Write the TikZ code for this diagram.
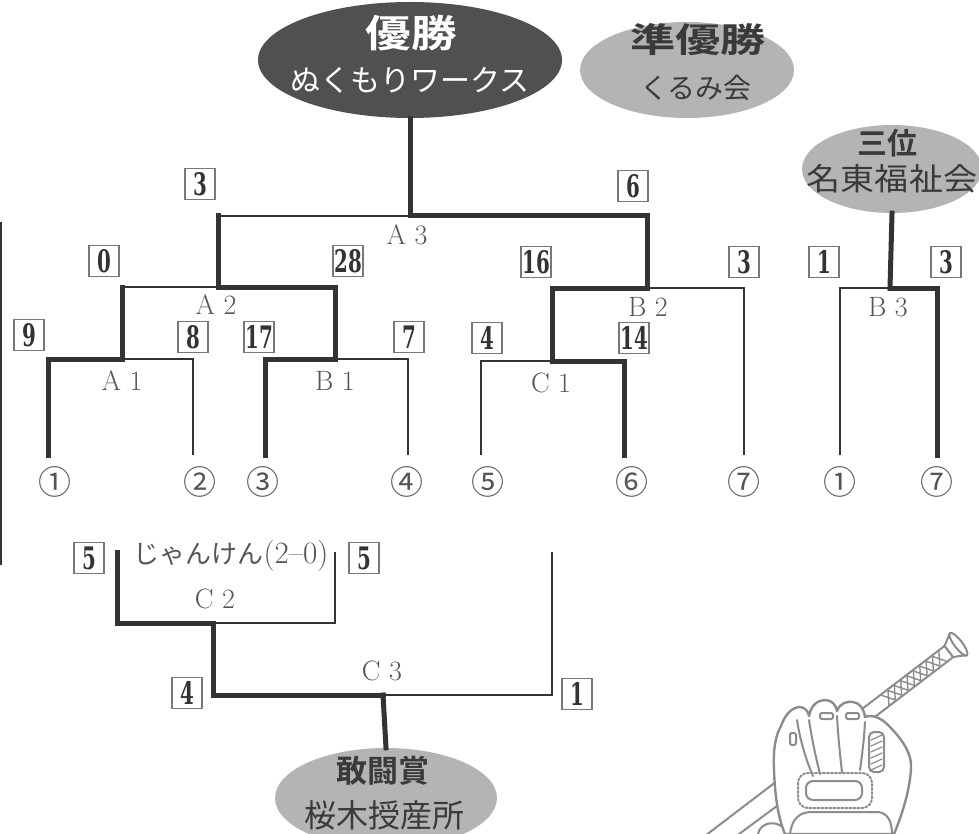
\documentclass[tikz,border=0pt]{standalone}
\usepackage{graphicx}
\usepackage{fontspec}
\newfontfamily\jpfont{Noto Sans CJK JP}[BoldFont={Noto Sans CJK JP Bold}]
\newfontfamily\scorefont{DejaVu Serif}
\usetikzlibrary{shapes.geometric}
\definecolor{inkgray}   {RGB}{ 51, 51, 51}
\definecolor{boxgray}   {RGB}{120,120,120}
\definecolor{textgray}  {RGB}{ 85, 85, 85}
\definecolor{champfill} {RGB}{ 80, 80, 80}
\definecolor{prizefill} {RGB}{180,180,180}
\definecolor{prizetext} {RGB}{ 58, 58, 58}
\definecolor{sketchgray}{RGB}{140,140,140}
\tikzset{
  win/.style    = {inkgray, line width=5pt, line cap=rect},
  lose/.style   = {inkgray, line width=1.8pt},
  score/.style  = {draw=boxgray, line width=1.3pt, minimum width=30pt,
                   minimum height=31pt, inner sep=0pt, text=inkgray,
                   font=\scorefont\bfseries\fontsize{31}{31}\selectfont},
  match/.style  = {text=textgray, font=\fontsize{28}{28}\selectfont},
  seed/.style   = {text=textgray, font=\jpfont\fontsize{33}{33}\selectfont},
  prize/.style  = {ellipse, fill=prizefill, inner sep=0pt},
  title/.style  = {text=prizetext, font=\jpfont\bfseries\fontsize{31}{31}\selectfont},
  team/.style   = {text=prizetext, font=\jpfont\fontsize{31}{31}\selectfont},
  sketch/.style = {sketchgray, line width=2pt, line join=round, line cap=round},
}

\begin{document}
\begin{tikzpicture}[x=1pt, y=-1pt]

  \useasboundingbox (0,0) rectangle (979,834);
  \clip (0,0) rectangle (979,834);

  % ── prize ellipses ────────────────────────────────────────────────────────
  \node[prize, fill=champfill, minimum width=304, minimum height=116] (champ) at (410,60) {};
  \node[prize, minimum width=214, minimum height=96]  (runner) at (687,70)  {};
  \node[prize, minimum width=180, minimum height=88]  (third)  at (892,169) {};
  \node[prize, minimum width=222, minimum height=100] (fight)  at (386,798) {};

  \node[title, text=white, font=\jpfont\bfseries\fontsize{38}{38}\selectfont]
    (champ-t) at (411,33) {\scalebox{1.2}[1]{優勝}};
  \node[team, text=white, font=\jpfont\fontsize{30}{30}\selectfont]
    (champ-n) at (410,80) {ぬくもりワークス};
  \node[title, font=\jpfont\bfseries\fontsize{34}{34}\selectfont]
    (runner-t) at (698,40) {\scalebox{1.33}[1]{準優勝}};
  \node[team, font=\jpfont\fontsize{28}{28}\selectfont]
    (runner-n) at (696,88) {くるみ会};
  \node[title, font=\jpfont\bfseries\fontsize{30}{30}\selectfont]
    (third-t) at (887,143) {三位};
  \node[team] (third-n) at (892,179) {\scalebox{1.1}[1]{名東福祉会}};
  \node[title] (fight-t) at (383,771) {敢闘賞};
  \node[team, font=\jpfont\fontsize{32}{32}\selectfont]
    (fight-n) at (384,815) {桜木授産所};

  % ── bracket points ────────────────────────────────────────────────────────
  \coordinate (l1) at (48,455);   \coordinate (l2) at (193,455);
  \coordinate (l3) at (265,455);  \coordinate (l4) at (408,455);
  \coordinate (l5) at (481,455);  \coordinate (l6) at (624,455);
  \coordinate (l7) at (744,455);  \coordinate (l8) at (840,455);
  \coordinate (l9) at (937,455);
  \coordinate (a1) at (122,359);  \coordinate (b1) at (335,359);
  \coordinate (c1) at (552,361);  \coordinate (a2) at (218,287);
  \coordinate (b2) at (647,288);  \coordinate (a3) at (410,216);
  \coordinate (b3) at (890,288);
  \coordinate (t1) at (117,552);  \coordinate (t2) at (335,552);
  \coordinate (t3) at (552,552);
  \coordinate (c2) at (213,623);  \coordinate (c3) at (383,695);

  % A1, B1, C1
  \draw[win]  (l1) |- (a1);  \draw[lose] (a1) -| (l2);
  \draw[win]  (l3) |- (b1);  \draw[lose] (b1) -| (l4);
  \draw[lose] (l5) |- (c1);  \draw[win]  (c1) -| (l6);
  % A2, B2
  \draw[win]  (a1) -- (a1 |- a2);  \draw[lose] (a1 |- a2) -- (a2);
  \draw[win]  (b1) |- (a2);
  \draw[win]  (c1) |- (b2);  \draw[lose] (b2) -| (l7);
  % A3 -> champion
  \draw[win]  (a2) -- (a2 |- a3);  \draw[lose] (a2 |- a3) -- (a3);
  \draw[win]  (b2) |- (a3);
  \draw[win]  (a3) -- (champ.south);
  % B3 -> third place
  \draw[lose] (l8) |- (b3);  \draw[win] (b3) -| (l9);
  \draw[win]  (b3) -- (third.south);
  % C2, C3 -> fighting spirit
  \draw[win]  (t1) |- (c2);  \draw[lose] (c2) -| (t2);
  \draw[win]  (c2) |- (c3);  \draw[lose] (c3) -| (t3);
  \draw[win]  (c3) -- (fight.north);

  % left border rule
  \draw[inkgray, line width=2pt] (1,222) -- (1,565);

  % ── scores ────────────────────────────────────────────────────────────────
  \foreach \x/\y/\n [count=\i] in
      {200/184/3, 633/186/6, 104/261/0, 348/261/28, 536/262/16, 744/262/3,
       824/262/1, 946/262/3, 29/335/9, 193/337/8, 259/337/17, 409/337/7,
       487/338/4, 634/338/14, 89/558/5, 364/558/5, 187/693/4, 577/694/1}{
    \node[score] (score\i) at (\x,\y) {\scalebox{.64}[1]{\n}};
  }

  % ── match labels ──────────────────────────────────────────────────────────
  \foreach \x/\y/\t [count=\i] in
      {407/235/{A 3}, 216/305/{A 2}, 122/381/{A 1}, 335/381/{B 1},
       551/383/{C 1}, 648/307/{B 2}, 888/307/{B 3}, 215/599/{C 2},
       382/671/{C 3}}{
    \node[match] (match\i) at (\x,\y) {\t};
  }
  \node[match, font=\fontsize{31}{31}\selectfont] (janken) at (231,556)
    {{\jpfont\fontsize{26}{26}\selectfont じゃんけん}(2--0)};

  % ── seeds ─────────────────────────────────────────────────────────────────
  \foreach \x/\s [count=\i] in
      {55/①, 200/②, 263/③, 407/④, 488/⑤, 632/⑥, 744/⑦, 840/①, 937/⑦}{
    \node[seed] (seed\i) at (\x,482) {\s};
  }

  % ── bat ───────────────────────────────────────────────────────────────────
  \draw[sketch, fill=white] (777,781) -- (697,842) -- (700,863) -- (781,803);
  \draw[sketch] (758,834) .. controls (760,824) and (772,820) .. (781,826);
  \draw[sketch, fill=white] (944.6,645.9) -- (856.4,713.3) -- (864.9,724.5)
    -- (953.2,657.1) -- cycle;
  \draw[sketch, fill=white] (944.6,645.9) .. controls (948,640) .. (949.9,633.1)
    -- (966.9,655.3) .. controls (959,656) .. (953.2,657.1) -- cycle;
  \draw[sketch, fill=white, rotate around={37.4:(958.4,644.2)}]
    (958.4,644.2) ellipse [x radius=4, y radius=14];
  % grip wrap
  \foreach \s in {22,30,...,86}{
    \pgfmathsetmacro{\xa}{960-0.795*\s+0.607*6}
    \pgfmathsetmacro{\ya}{643+0.607*\s+0.795*6}
    \pgfmathsetmacro{\xb}{960-0.795*(\s+8)-0.607*6}
    \pgfmathsetmacro{\yb}{643+0.607*(\s+8)-0.795*6}
    \pgfmathsetmacro{\xc}{960-0.795*\s-0.607*6}
    \pgfmathsetmacro{\yc}{643+0.607*\s-0.795*6}
    \pgfmathsetmacro{\xd}{960-0.795*(\s+8)+0.607*6}
    \pgfmathsetmacro{\yd}{643+0.607*(\s+8)+0.795*6}
    \draw[sketch, line width=1.4pt] (\xa,\ya) -- (\xb,\yb) (\xc,\yc) -- (\xd,\yd);
  }

  % ── glove ─────────────────────────────────────────────────────────────────
  \draw[sketch, line width=2.4pt, fill=white]
    (785,834) .. controls (779,820) and (775,800) .. (774,770)
    .. controls (773,752) and (775,736) .. (781,726)
    .. controls (785,715) and (791,708) .. (799,707)
    .. controls (805,707) and (808,711) .. (809,716)
    .. controls (811,705) and (818,700) .. (825,700)
    .. controls (832,700) and (836,705) .. (837,711)
    .. controls (840,703) and (847,701) .. (853,702)
    .. controls (860,703) and (864,709) .. (865,717)
    .. controls (872,714) and (881,718) .. (888,725)
    .. controls (900,737) and (912,752) .. (911,768)
    .. controls (910,790) and (902,815) .. (894,834) -- cycle;
  % finger seams and tip slits
  \draw[sketch] (797,720) .. controls (800,740) and (806,760) .. (813,776);
  \draw[sketch] (809,720) .. controls (812,740) and (816,758) .. (820,774);
  \draw[sketch] (837,716) .. controls (838,735) and (840,755) .. (842,772);
  \draw[sketch] (865,722) .. controls (864,740) and (862,756) .. (860,770);
  \draw[sketch, rounded corners=2] (790,733) rectangle (796,745);
  \draw[sketch, rounded corners=2] (820,713) rectangle (833,719);
  \draw[sketch, rounded corners=2] (846,713) rectangle (859,719);
  % laced thumb
  \draw[sketch, rounded corners=5] (869,732) rectangle (884,772);
  \foreach \v in {737,743,...,767}{
    \draw[sketch, line width=1.2pt] (871,\v+3) -- (882,\v-2);
  }
  % pocket strap
  \draw[sketch, dotted, rounded corners=10] (798,773) rectangle (872,808);
  \draw[sketch, rounded corners=7] (806,781) rectangle (862,800);
  \draw[sketch] (790,834) .. controls (792,818) and (800,812) .. (812,812)
    -- (878,812) .. controls (888,813) and (892,822) .. (892,834);

\end{tikzpicture}
\end{document}
